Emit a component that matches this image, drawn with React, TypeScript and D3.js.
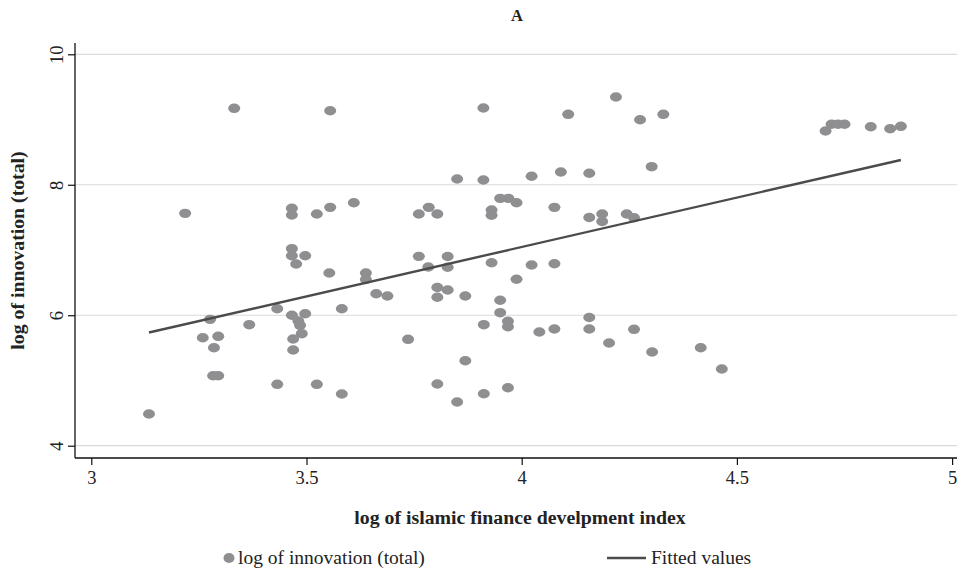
import React, { useRef, useEffect } from "react";
import * as d3 from "d3";

// log of islamic finance development index (x) and log of innovation (y)
const ifdi = [
  3.134, 3.218, 3.332, 3.259, 3.276, 3.285, 3.295, 3.283, 3.295, 3.367,
  3.432, 3.432, 3.466, 3.466, 3.466, 3.466, 3.476, 3.497, 3.466, 3.481,
  3.485, 3.497, 3.489, 3.469, 3.469, 3.524, 3.524, 3.555, 3.555, 3.553,
  3.582, 3.582, 3.61, 3.638, 3.638, 3.662, 3.688, 3.736, 3.761, 3.761,
  3.784, 3.783, 3.804, 3.804, 3.804, 3.804, 3.828, 3.828, 3.828, 3.85,
  3.85, 3.869, 3.869, 3.911, 3.911, 3.912, 3.912, 3.93, 3.93, 3.93,
  3.95, 3.969, 3.988, 3.95, 3.95, 3.968, 3.968, 3.968, 3.988, 4.023,
  4.023, 4.041, 4.076, 4.076, 4.076, 4.091, 4.108, 4.157, 4.157, 4.157,
  4.157, 4.187, 4.187, 4.203, 4.219, 4.244, 4.261, 4.261, 4.275, 4.302,
  4.303, 4.329, 4.416, 4.465, 4.706, 4.72, 4.735, 4.75, 4.811, 4.856,
  4.881,
];
const innovation = [
  4.486, 7.562, 9.172, 5.655, 5.937, 5.502, 5.677, 5.073, 5.073, 5.855,
  6.1, 4.941, 7.639, 7.536, 7.02, 6.912, 6.785, 6.912, 5.999, 5.911,
  5.845, 6.023, 5.717, 5.635, 5.467, 4.941, 7.552, 7.654, 9.135, 6.647,
  6.1, 4.792, 7.725, 6.647, 6.548, 6.33, 6.295, 5.631, 7.552, 6.903,
  7.654, 6.739, 7.552, 6.425, 6.275, 4.946, 6.9, 6.736, 6.387, 8.088,
  4.67, 6.295, 5.303, 9.177, 8.073, 5.855, 4.797, 7.613, 7.532, 6.805,
  7.792, 7.792, 7.725, 6.229, 6.039, 5.907, 5.824, 4.889, 6.551, 8.13,
  6.77, 5.743, 7.654, 6.79, 5.789, 8.196, 9.08, 8.176, 7.498, 5.965,
  5.789, 7.552, 7.437, 5.574, 9.345, 7.552, 7.495, 5.784, 8.997, 8.277,
  5.436, 9.08, 5.502, 5.176, 8.824, 8.927, 8.927, 8.927, 8.89, 8.859,
  8.896,
];

// fitted values (end points of the regression line)
const fitX = [3.134, 4.881];
const fitY = [5.735, 8.38];

const xTicks = [3, 3.5, 4, 4.5, 5];
const yTicks = [4, 6, 8, 10];

const App = () => {
  const svgRef = useRef<SVGSVGElement>(null);

  useEffect(() => {
    const width = 968;
    const height = 573;
    const svg = d3.select(svgRef.current);
    svg.selectAll("*").remove();
    svg.attr("width", width).attr("height", height);

    const font = "'Liberation Serif', 'Times New Roman', serif";
    const frame = { left: 75, right: 957, top: 43, bottom: 458 };

    const x = d3.scaleLinear().domain([3, 5]).range([91.3, 952.1]);
    const y = d3.scaleLinear().domain([4, 10]).range([445.7, 54.3]);

    // gridlines
    svg
      .append("g")
      .selectAll("line")
      .data(yTicks)
      .join("line")
      .attr("x1", frame.left)
      .attr("x2", frame.right)
      .attr("y1", (d) => y(d))
      .attr("y2", (d) => y(d))
      .attr("stroke", "#dadada")
      .attr("stroke-width", 1.2);

    // x axis
    const gx = svg
      .append("g")
      .attr("transform", `translate(0, ${frame.bottom})`)
      .call(d3.axisBottom(x).tickValues(xTicks).tickSize(7).tickPadding(6).tickFormat((d) => String(d)));
    gx.select(".domain")
      .attr("d", `M${frame.left},0H${frame.right}`)
      .attr("stroke", "#111")
      .attr("stroke-width", 1.3);
    gx.selectAll(".tick line").attr("stroke", "#111").attr("stroke-width", 1.2);
    gx.selectAll(".tick text")
      .attr("font-family", font)
      .attr("font-size", 18.5)
      .attr("fill", "#222");

    // y axis
    const gy = svg
      .append("g")
      .attr("transform", `translate(${frame.left}, 0)`)
      .call(d3.axisLeft(y).tickValues(yTicks).tickSize(7).tickFormat((d) => String(d)));
    gy.select(".domain")
      .attr("d", `M0,${frame.top}V${frame.bottom}`)
      .attr("stroke", "#111")
      .attr("stroke-width", 1.3);
    gy.selectAll(".tick line").attr("stroke", "#111").attr("stroke-width", 1.2);
    gy.selectAll(".tick text")
      .attr("x", null)
      .attr("dy", null)
      .attr("transform", "translate(-12,0) rotate(-90)")
      .attr("text-anchor", "middle")
      .attr("font-family", font)
      .attr("font-size", 18.5)
      .attr("fill", "#222");

    // scatter points
    svg
      .append("g")
      .selectAll("ellipse")
      .data(ifdi.map((v, i) => [v, innovation[i]]))
      .join("ellipse")
      .attr("cx", (d) => x(d[0]))
      .attr("cy", (d) => y(d[1]))
      .attr("rx", 6)
      .attr("ry", 4.7)
      .attr("fill", "#8f8f92");

    // fitted line
    const line = d3
      .line<number>()
      .x((d) => x(d))
      .y((d, i) => y(fitY[i]));
    svg
      .append("path")
      .attr("d", line(fitX))
      .attr("fill", "none")
      .attr("stroke", "#4b4b4b")
      .attr("stroke-width", 2.4);

    // titles
    svg
      .append("text")
      .attr("x", 517)
      .attr("y", 21)
      .attr("text-anchor", "middle")
      .attr("font-family", font)
      .attr("font-weight", "bold")
      .attr("font-size", 16.5)
      .attr("fill", "#222")
      .text("A");

    svg
      .append("text")
      .attr("x", 520)
      .attr("y", 524)
      .attr("text-anchor", "middle")
      .attr("font-family", font)
      .attr("font-weight", "bold")
      .attr("font-size", 19.8)
      .attr("fill", "#222")
      .text("log of islamic finance develpment index");

    svg
      .append("text")
      .attr("transform", `translate(24, ${(frame.top + frame.bottom) / 2}) rotate(-90)`)
      .attr("text-anchor", "middle")
      .attr("font-family", font)
      .attr("font-weight", "bold")
      .attr("font-size", 19.8)
      .attr("fill", "#222")
      .text("log of innovation (total)");

    // legend
    const legend = svg.append("g").attr("transform", "translate(0, 558)");
    legend
      .append("ellipse")
      .attr("cx", 229)
      .attr("cy", 0)
      .attr("rx", 5.5)
      .attr("ry", 5)
      .attr("fill", "#8f8f92");
    legend
      .append("text")
      .attr("x", 238)
      .attr("y", 6)
      .attr("font-family", font)
      .attr("font-size", 19.5)
      .attr("fill", "#222")
      .text("log of innovation (total)");
    legend
      .append("line")
      .attr("x1", 607)
      .attr("x2", 646)
      .attr("y1", 0)
      .attr("y2", 0)
      .attr("stroke", "#4b4b4b")
      .attr("stroke-width", 2.4);
    legend
      .append("text")
      .attr("x", 651)
      .attr("y", 6)
      .attr("font-family", font)
      .attr("font-size", 19.5)
      .attr("fill", "#222")
      .text("Fitted values");
  }, []);

  return (
    <svg
      ref={svgRef}
      style={{ position: "absolute", left: 0, top: 0, background: "#fff" }}
    ></svg>
  );
};

export default App;
